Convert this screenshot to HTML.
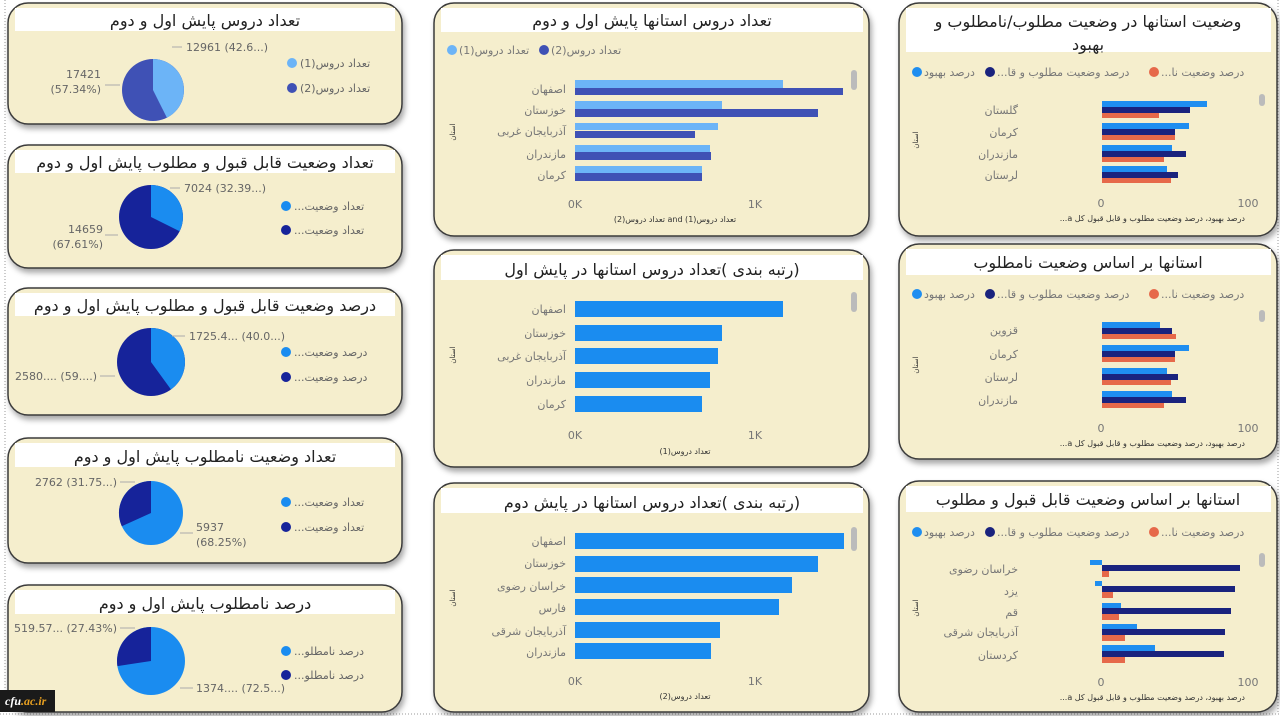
<!DOCTYPE html>
<html><head><meta charset="utf-8"><style>
html,body{margin:0;padding:0;background:#fff;}
svg{display:block;font-family:"DejaVu Sans","Liberation Sans",sans-serif;}
.t{font-size:16px;fill:#222;}
.l{font-size:11px;fill:#666;}
.g{font-size:11px;fill:#777;}
.s{font-size:7px;fill:#333;}
.ax{font-size:8px;fill:#333;}
</style></head><body>
<svg width="1280" height="716" viewBox="0 0 1280 716">
<defs>
<filter id="sh" x="-5%" y="-5%" width="112%" height="118%"><feDropShadow dx="2" dy="4" stdDeviation="3" flood-color="#000" flood-opacity="0.35"/></filter>
</defs>
<rect width="1280" height="716" fill="#fff"/>
<line x1="5" y1="0" x2="5" y2="714" stroke="#999" stroke-dasharray="1,2"/>
<line x1="1278" y1="0" x2="1278" y2="714" stroke="#999" stroke-dasharray="1,2"/>
<line x1="0" y1="714" x2="1280" y2="714" stroke="#999" stroke-dasharray="1,2"/>

<!-- panels -->
<g fill="#f5eecd" stroke="#3a3a3a" stroke-width="1.5" filter="url(#sh)">
<rect x="8" y="3" width="394" height="121" rx="20"/>
<rect x="8" y="145" width="394" height="123" rx="20"/>
<rect x="8" y="288" width="394" height="127" rx="20"/>
<rect x="8" y="438" width="394" height="125" rx="20"/>
<rect x="8" y="585" width="394" height="127" rx="20"/>
<rect x="434" y="3" width="435" height="233" rx="20"/>
<rect x="434" y="250" width="435" height="217" rx="20"/>
<rect x="434" y="483" width="435" height="229" rx="20"/>
<rect x="899" y="3" width="378" height="233" rx="20"/>
<rect x="899" y="244" width="378" height="215" rx="20"/>
<rect x="899" y="481" width="378" height="231" rx="20"/>
</g>
<!-- title strips -->
<g fill="#fff">
<rect x="15" y="8" width="380" height="23"/>
<rect x="15" y="150" width="380" height="23"/>
<rect x="15" y="293" width="380" height="23"/>
<rect x="15" y="443" width="380" height="24"/>
<rect x="15" y="590" width="380" height="24"/>
<rect x="441" y="8" width="422" height="24"/>
<rect x="441" y="255" width="422" height="25"/>
<rect x="441" y="488" width="422" height="25"/>
<rect x="906" y="8" width="365" height="44"/>
<rect x="906" y="249" width="365" height="26"/>
<rect x="906" y="486" width="365" height="26"/>
</g>
<g class="t" text-anchor="middle">
<text x="205" y="26">تعداد دروس پایش اول و دوم</text>
<text x="205" y="168">تعداد وضعیت قابل قبول و مطلوب پایش اول و دوم</text>
<text x="205" y="311">درصد وضعیت قابل قبول و مطلوب پایش اول و دوم</text>
<text x="205" y="462">تعداد وضعیت نامطلوب پایش اول و دوم</text>
<text x="205" y="609">درصد نامطلوب پایش اول و دوم</text>
<text x="652" y="26">تعداد دروس استانها پایش اول و دوم</text>
<text x="652" y="275">رتبه بندی )تعداد دروس استانها در پایش اول)</text>
<text x="652" y="508">رتبه بندی )تعداد دروس استانها در پایش دوم)</text>
<text x="1088" y="27">وضعیت استانها در وضعیت مطلوب/نامطلوب و</text>
<text x="1088" y="50">بهبود</text>
<text x="1088" y="268">استانها بر اساس وضعیت نامطلوب</text>
<text x="1088" y="505">استانها بر اساس وضعیت قابل قبول و مطلوب</text>
</g>

<!-- PIE 1 -->
<circle cx="153" cy="90" r="31" fill="#3f51b5"/>
<path d="M153,90 L153,59 A31,31 0 0 1 166.9,117.7 Z" fill="#6cb4f7"/>
<polyline points="172,47 182,47" stroke="#aaa" fill="none"/>
<text class="l" x="186" y="51">12961 (42.6...)</text>
<line x1="105" y1="85" x2="120" y2="85" stroke="#aaa"/>
<text class="l" x="101" y="78" text-anchor="end">17421</text>
<text class="l" x="101" y="93" text-anchor="end">(57.34%)</text>
<circle cx="292" cy="63" r="5" fill="#6cb4f7"/><text class="l" x="300" y="67">(تعداد دروس(1</text>
<circle cx="292" cy="88" r="5" fill="#3f51b5"/><text class="l" x="300" y="92">(تعداد دروس(2</text>

<!-- PIE 2 -->
<circle cx="151" cy="217" r="32" fill="#16239a"/>
<path d="M151,217 L151,185 A32,32 0 0 1 179.6,231.3 Z" fill="#1a8cf0"/>
<line x1="170" y1="188" x2="180" y2="188" stroke="#aaa"/>
<text class="l" x="184" y="192">7024 (32.39...)</text>
<line x1="105" y1="235" x2="118" y2="235" stroke="#aaa"/>
<text class="l" x="103" y="233" text-anchor="end">14659</text>
<text class="l" x="103" y="248" text-anchor="end">(67.61%)</text>
<circle cx="286" cy="206" r="5" fill="#1a8cf0"/><text class="l" x="294" y="210">...تعداد وضعیت</text>
<circle cx="286" cy="230" r="5" fill="#16239a"/><text class="l" x="294" y="234">...تعداد وضعیت</text>

<!-- PIE 3 -->
<circle cx="151" cy="362" r="34" fill="#16239a"/>
<path d="M151,362 L151,328 A34,34 0 0 1 171,389.5 Z" fill="#1a8cf0"/>
<line x1="172" y1="336" x2="185" y2="336" stroke="#aaa"/>
<text class="l" x="189" y="340">1725.4... (40.0...)</text>
<line x1="100" y1="376" x2="115" y2="376" stroke="#aaa"/>
<text class="l" x="97" y="380" text-anchor="end">2580.... (59....)</text>
<circle cx="286" cy="352" r="5" fill="#1a8cf0"/><text class="l" x="294" y="356">...درصد وضعیت</text>
<circle cx="286" cy="377" r="5" fill="#16239a"/><text class="l" x="294" y="381">...درصد وضعیت</text>

<!-- PIE 4 -->
<circle cx="151" cy="513" r="32" fill="#1a8cf0"/>
<path d="M151,513 L151,481 A32,32 0 0 0 121.8,526.2 Z" fill="#16239a"/>
<line x1="120" y1="482" x2="135" y2="482" stroke="#aaa"/>
<text class="l" x="117" y="486" text-anchor="end">2762 (31.75...)</text>
<line x1="180" y1="533" x2="193" y2="533" stroke="#aaa"/>
<text class="l" x="196" y="531">5937</text>
<text class="l" x="196" y="546">(68.25%)</text>
<circle cx="286" cy="502" r="5" fill="#1a8cf0"/><text class="l" x="294" y="506">...تعداد وضعیت</text>
<circle cx="286" cy="527" r="5" fill="#16239a"/><text class="l" x="294" y="531">...تعداد وضعیت</text>

<!-- PIE 5 -->
<circle cx="151" cy="661" r="34" fill="#1a8cf0"/>
<path d="M151,661 L151,627 A34,34 0 0 0 117.4,666.1 Z" fill="#16239a"/>
<line x1="120" y1="628" x2="135" y2="628" stroke="#aaa"/>
<text class="l" x="117" y="632" text-anchor="end">519.57... (27.43%)</text>
<line x1="180" y1="688" x2="193" y2="688" stroke="#aaa"/>
<text class="l" x="196" y="692">1374.... (72.5...)</text>
<circle cx="286" cy="651" r="5" fill="#1a8cf0"/><text class="l" x="294" y="655">...درصد نامطلو</text>
<circle cx="286" cy="675" r="5" fill="#16239a"/><text class="l" x="294" y="679">...درصد نامطلو</text>

<!-- MIDDLE CHART 1 -->
<circle cx="452" cy="50" r="5" fill="#6cb4f7"/><text class="g" x="459" y="54">(تعداد دروس(1</text>
<circle cx="544" cy="50" r="5" fill="#3f51b5"/><text class="g" x="551" y="54">(تعداد دروس(2</text>
<rect x="851" y="70" width="6" height="20" rx="3" fill="#bbb"/>
<g fill="#6cb4f7">
<rect x="575" y="80" width="208" height="8"/>
<rect x="575" y="101" width="147" height="8"/>
<rect x="575" y="123" width="143" height="7"/>
<rect x="575" y="145" width="135" height="7"/>
<rect x="575" y="166" width="127" height="7"/>
</g>
<g fill="#3f51b5">
<rect x="575" y="88" width="268" height="7"/>
<rect x="575" y="109" width="243" height="8"/>
<rect x="575" y="131" width="120" height="7"/>
<rect x="575" y="152" width="136" height="8"/>
<rect x="575" y="173" width="127" height="8"/>
</g>
<g class="g" text-anchor="end">
<text x="566" y="93">اصفهان</text><text x="566" y="114">خوزستان</text><text x="566" y="135">آذربایجان غربی</text><text x="566" y="158">مازندران</text><text x="566" y="179">کرمان</text>
</g>
<text class="s" x="455" y="132" transform="rotate(-90 455 132)" text-anchor="middle">استان</text>
<text class="g" x="575" y="208" text-anchor="middle">0K</text>
<text class="g" x="755" y="208" text-anchor="middle">1K</text>
<text class="ax" x="675" y="222" text-anchor="middle">(تعداد دروس(2 and (تعداد دروس(1</text>

<!-- MIDDLE CHART 2 -->
<rect x="851" y="292" width="6" height="20" rx="3" fill="#bbb"/>
<g fill="#1a8cf0">
<rect x="575" y="301" width="208" height="16"/>
<rect x="575" y="325" width="147" height="16"/>
<rect x="575" y="348" width="143" height="16"/>
<rect x="575" y="372" width="135" height="16"/>
<rect x="575" y="396" width="127" height="16"/>
</g>
<g class="g" text-anchor="end">
<text x="566" y="313">اصفهان</text><text x="566" y="337">خوزستان</text><text x="566" y="360">آذربایجان غربی</text><text x="566" y="384">مازندران</text><text x="566" y="408">کرمان</text>
</g>
<text class="s" x="455" y="355" transform="rotate(-90 455 355)" text-anchor="middle">استان</text>
<text class="g" x="575" y="439" text-anchor="middle">0K</text>
<text class="g" x="755" y="439" text-anchor="middle">1K</text>
<text class="ax" x="685" y="454" text-anchor="middle">(تعداد دروس(1</text>

<!-- MIDDLE CHART 3 -->
<rect x="851" y="527" width="6" height="24" rx="3" fill="#bbb"/>
<g fill="#1a8cf0">
<rect x="575" y="533" width="269" height="16"/>
<rect x="575" y="556" width="243" height="16"/>
<rect x="575" y="577" width="217" height="16"/>
<rect x="575" y="599" width="204" height="16"/>
<rect x="575" y="622" width="145" height="16"/>
<rect x="575" y="643" width="136" height="16"/>
</g>
<g class="g" text-anchor="end">
<text x="566" y="545">اصفهان</text><text x="566" y="567">خوزستان</text><text x="566" y="590">خراسان رضوی</text><text x="566" y="612">فارس</text><text x="566" y="635">آذربایجان شرقی</text><text x="566" y="656">مازندران</text>
</g>
<text class="s" x="455" y="598" transform="rotate(-90 455 598)" text-anchor="middle">استان</text>
<text class="g" x="575" y="685" text-anchor="middle">0K</text>
<text class="g" x="755" y="685" text-anchor="middle">1K</text>
<text class="ax" x="685" y="699" text-anchor="middle">(تعداد دروس(2</text>

<!-- RIGHT legends -->
<g>
<circle cx="917" cy="72" r="5" fill="#1f8ef0"/><text class="g" x="924" y="76">درصد بهبود</text>
<circle cx="990" cy="72" r="5" fill="#1a237e"/><text class="g" x="997" y="76">...درصد وضعیت مطلوب و قا</text>
<circle cx="1154" cy="72" r="5" fill="#e6694a"/><text class="g" x="1161" y="76">...درصد وضعیت نا</text>
</g>
<g>
<circle cx="917" cy="294" r="5" fill="#1f8ef0"/><text class="g" x="924" y="298">درصد بهبود</text>
<circle cx="990" cy="294" r="5" fill="#1a237e"/><text class="g" x="997" y="298">...درصد وضعیت مطلوب و قا</text>
<circle cx="1154" cy="294" r="5" fill="#e6694a"/><text class="g" x="1161" y="298">...درصد وضعیت نا</text>
</g>
<g>
<circle cx="917" cy="532" r="5" fill="#1f8ef0"/><text class="g" x="924" y="536">درصد بهبود</text>
<circle cx="990" cy="532" r="5" fill="#1a237e"/><text class="g" x="997" y="536">...درصد وضعیت مطلوب و قا</text>
<circle cx="1154" cy="532" r="5" fill="#e6694a"/><text class="g" x="1161" y="536">...درصد وضعیت نا</text>
</g>

<!-- RIGHT CHART 1 -->
<rect x="1259" y="94" width="6" height="12" rx="3" fill="#bbb"/>
<g fill="#1f8ef0">
<rect x="1102" y="101" width="105" height="6"/><rect x="1102" y="123" width="87" height="6"/><rect x="1102" y="145" width="70" height="6"/><rect x="1102" y="166" width="65" height="6"/>
</g>
<g fill="#1a237e">
<rect x="1102" y="107" width="88" height="6"/><rect x="1102" y="129" width="73" height="6"/><rect x="1102" y="151" width="84" height="6"/><rect x="1102" y="172" width="76" height="6"/>
</g>
<g fill="#e6694a">
<rect x="1102" y="113" width="57" height="5"/><rect x="1102" y="135" width="73" height="5"/><rect x="1102" y="157" width="62" height="5"/><rect x="1102" y="178" width="69" height="5"/>
</g>
<g class="g" text-anchor="end">
<text x="1018" y="114">گلستان</text><text x="1018" y="136">کرمان</text><text x="1018" y="158">مازندران</text><text x="1018" y="179">لرستان</text>
</g>
<text class="s" x="918" y="140" transform="rotate(-90 918 140)" text-anchor="middle">استان</text>
<text class="g" x="1101" y="207" text-anchor="middle">0</text>
<text class="g" x="1248" y="207" text-anchor="middle">100</text>
<text class="ax" x="1245" y="221" text-anchor="end">...a درصد بهبود، درصد وضعیت مطلوب و قابل قبول کل</text>

<!-- RIGHT CHART 2 -->
<rect x="1259" y="310" width="6" height="12" rx="3" fill="#bbb"/>
<g fill="#1f8ef0">
<rect x="1102" y="322" width="58" height="6"/><rect x="1102" y="345" width="87" height="6"/><rect x="1102" y="368" width="65" height="6"/><rect x="1102" y="391" width="70" height="6"/>
</g>
<g fill="#1a237e">
<rect x="1102" y="328" width="70" height="6"/><rect x="1102" y="351" width="73" height="6"/><rect x="1102" y="374" width="76" height="6"/><rect x="1102" y="397" width="84" height="6"/>
</g>
<g fill="#e6694a">
<rect x="1102" y="334" width="74" height="5"/><rect x="1102" y="357" width="73" height="5"/><rect x="1102" y="380" width="69" height="5"/><rect x="1102" y="403" width="62" height="5"/>
</g>
<g class="g" text-anchor="end">
<text x="1018" y="334">قزوین</text><text x="1018" y="358">کرمان</text><text x="1018" y="381">لرستان</text><text x="1018" y="404">مازندران</text>
</g>
<text class="s" x="918" y="365" transform="rotate(-90 918 365)" text-anchor="middle">استان</text>
<text class="g" x="1101" y="432" text-anchor="middle">0</text>
<text class="g" x="1248" y="432" text-anchor="middle">100</text>
<text class="ax" x="1245" y="446" text-anchor="end">...a درصد بهبود، درصد وضعیت مطلوب و قابل قبول کل</text>

<!-- RIGHT CHART 3 -->
<rect x="1259" y="553" width="6" height="14" rx="3" fill="#bbb"/>
<g fill="#1f8ef0">
<rect x="1090" y="560" width="12" height="5"/><rect x="1095" y="581" width="7" height="5"/><rect x="1102" y="603" width="19" height="6"/><rect x="1102" y="624" width="35" height="6"/><rect x="1102" y="645" width="53" height="6"/>
</g>
<g fill="#1a237e">
<rect x="1102" y="565" width="138" height="6"/><rect x="1102" y="586" width="133" height="6"/><rect x="1102" y="608" width="129" height="6"/><rect x="1102" y="629" width="123" height="6"/><rect x="1102" y="651" width="122" height="6"/>
</g>
<g fill="#e6694a">
<rect x="1102" y="571" width="7" height="6"/><rect x="1102" y="592" width="11" height="6"/><rect x="1102" y="614" width="17" height="6"/><rect x="1102" y="635" width="23" height="6"/><rect x="1102" y="657" width="23" height="6"/>
</g>
<g class="g" text-anchor="end">
<text x="1018" y="573">خراسان رضوی</text><text x="1018" y="595">یزد</text><text x="1018" y="616">قم</text><text x="1018" y="636">آذربایجان شرقی</text><text x="1018" y="659">کردستان</text>
</g>
<text class="s" x="918" y="608" transform="rotate(-90 918 608)" text-anchor="middle">استان</text>
<text class="g" x="1101" y="686" text-anchor="middle">0</text>
<text class="g" x="1248" y="686" text-anchor="middle">100</text>
<text class="ax" x="1245" y="700" text-anchor="end">...a درصد بهبود، درصد وضعیت مطلوب و قابل قبول کل</text>

<!-- watermark -->
<rect x="0" y="690" width="55" height="22" fill="#1a1a1a"/>
<text x="5" y="705" font-family="Liberation Serif, serif" font-weight="bold" font-style="italic" font-size="12" fill="#fff">cfu<tspan fill="#e8a020">.ac.ir</tspan></text>
</svg>
</body></html>
